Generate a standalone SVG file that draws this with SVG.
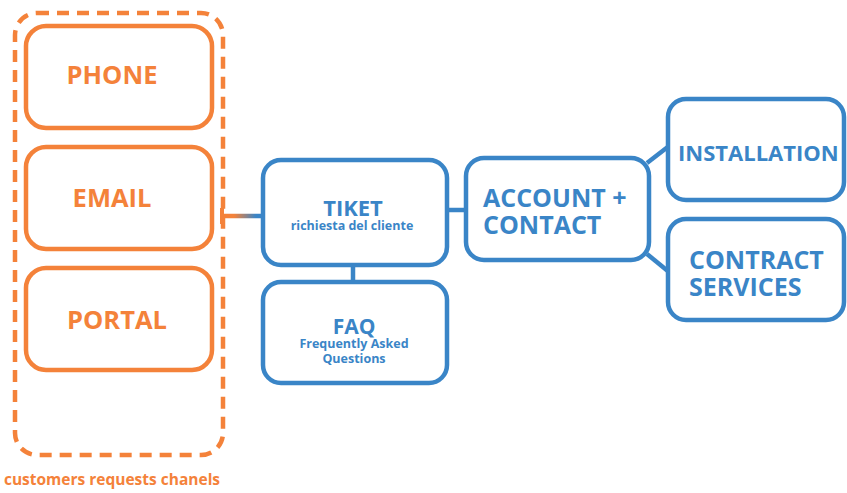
<svg xmlns="http://www.w3.org/2000/svg" width="847" height="493" viewBox="0 0 847 493">
<defs>
<style>
.o{fill:none;stroke:#F4823A;stroke-width:4.5}
.b{fill:#fff;stroke:#3A85C7;stroke-width:4.5}
.to{fill:#F4823A;font-family:"Open Sans","Noto Sans",sans-serif;font-weight:700}
.tb{fill:#3A85C7;font-family:"Open Sans","Noto Sans",sans-serif;font-weight:700}
.c{fill:none;stroke:#3A85C7;stroke-width:4.5}
</style>
<linearGradient id="g" gradientUnits="userSpaceOnUse" x1="222" y1="0" x2="262" y2="0">
<stop offset="0.3" stop-color="#F4823A"/>
<stop offset="0.85" stop-color="#3A85C7"/>
</linearGradient>
</defs>
<rect width="847" height="493" fill="#fff"/>
<g id="channels">
<rect x="15" y="13" width="208" height="442" rx="22" class="o" stroke-dasharray="12 8"/>
<text x="112" y="485" class="to" font-size="15.5" text-anchor="middle">customers requests chanels</text>
</g>
<g id="connectors">
<path d="M222 216H263" fill="none" stroke="url(#g)" stroke-width="4.5"/>
<path d="M222 208V224" stroke="#F4823A" stroke-width="4"/>
<path d="M353 265V282" class="c"/>
<path d="M447 210H467" class="c"/>
<path d="M647 163L669 146" class="c"/>
<path d="M647 254L669 272" class="c"/>
</g>
<g id="phone">
<rect x="26" y="26" width="186" height="102" rx="20" class="o"/>
<text x="112" y="84" class="to" font-size="25.5" text-anchor="middle">PHONE</text>
</g>
<g id="email">
<rect x="26" y="147" width="186" height="102" rx="20" class="o"/>
<text x="112" y="207" class="to" font-size="25.5" text-anchor="middle">EMAIL</text>
</g>
<g id="portal">
<rect x="26" y="268" width="186" height="102" rx="20" class="o"/>
<text x="117" y="329" class="to" font-size="25.5" text-anchor="middle">PORTAL</text>
</g>
<g id="tiket">
<rect x="263" y="160" width="184" height="105" rx="18" class="b"/>
<text x="353" y="216" class="tb" font-size="22" text-anchor="middle">TIKET</text>
<text x="352" y="230" class="tb" font-size="12.5" text-anchor="middle">richiesta del cliente</text>
</g>
<g id="faq">
<rect x="263" y="282" width="184" height="101" rx="18" class="b"/>
<text x="354" y="334" class="tb" font-size="21" text-anchor="middle">FAQ</text>
<text x="354" y="347.5" class="tb" font-size="12.5" text-anchor="middle">Frequently Asked</text>
<text x="354" y="362.5" class="tb" font-size="12.5" text-anchor="middle">Questions</text>
</g>
<g id="account">
<rect x="466" y="158" width="183" height="102" rx="18" class="b"/>
<text x="483" y="207" class="tb" font-size="25">ACCOUNT +</text>
<text x="483" y="234" class="tb" font-size="25">CONTACT</text>
</g>
<g id="installation">
<rect x="668" y="99" width="176" height="101" rx="18" class="b"/>
<text x="678" y="161" class="tb" font-size="22">INSTALLATION</text>
</g>
<g id="contract">
<rect x="668" y="219" width="176" height="101" rx="18" class="b"/>
<text x="689" y="269" class="tb" font-size="25">CONTRACT</text>
<text x="689" y="296" class="tb" font-size="25">SERVICES</text>
</g>
</svg>
